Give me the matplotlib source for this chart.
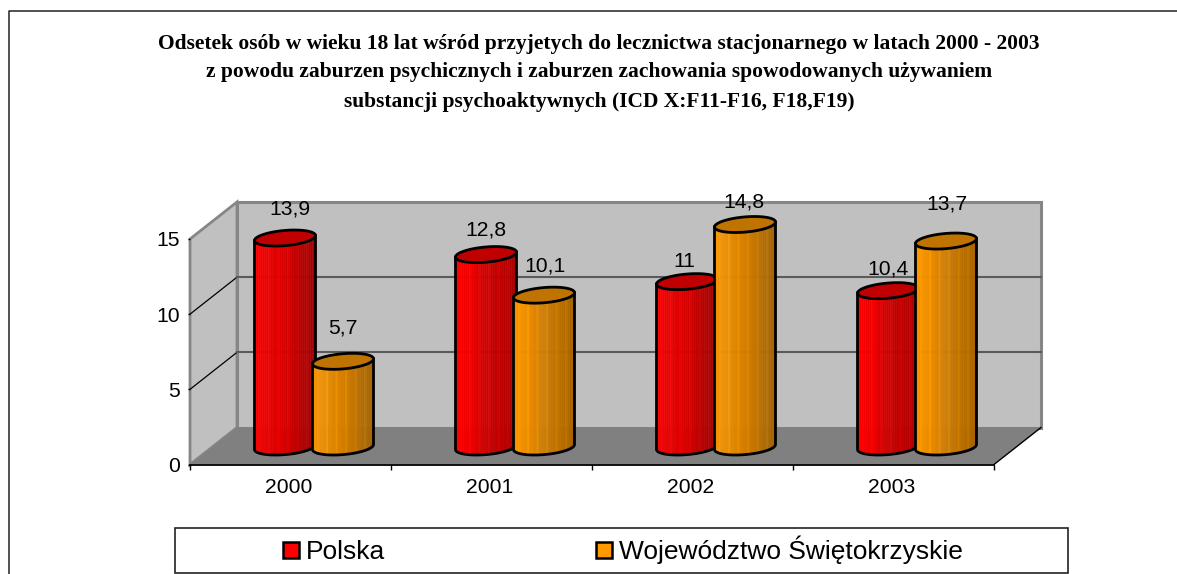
import numpy as np
import matplotlib
matplotlib.use("Agg")
import matplotlib.pyplot as plt
from matplotlib.patches import Rectangle, Polygon

W = 1177
H = 574

years = ["2000", "2001", "2002", "2003"]
polska = [13.9, 12.8, 11, 10.4]
swietokrzyskie = [5.7, 10.1, 14.8, 13.7]
value_ticks = [0, 5, 10, 15]
series_names = ["Polska", "Województwo Świętokrzyskie"]
title = ("Odsetek osób w wieku 18 lat wśród przyjetych do lecznictwa stacjonarnego w latach 2000 - 2003\n"
         "z powodu zaburzen psychicznych i zaburzen zachowania spowodowanych używaniem\n"
         "substancji psychoaktywnych (ICD X:F11-F16, F18,F19)")

# label offsets in pixels from the top of each bar, the labels were moved by hand
polska_off = [(5, 29), (0, 25), (-3, 20), (0, 22)]
swiet_off = [(0, 33), (1, 29), (-1, 23), (1, 37)]

plt.rcParams['font.family'] = ['Liberation Sans', 'DejaVu Sans']

fig = plt.figure(figsize=(W / 100, H / 100), dpi=100)
# axes = front plane of the 3d box
ax = fig.add_axes([190 / W, 1 - 464.5 / H, (994 - 190) / W, (464.5 - 239) / H])
ax.set_xlim(-0.5, 3.5)
ax.set_ylim(0, 15)
ax.patch.set_visible(False)
for s in ax.spines.values():
    s.set_visible(False)

cat_px = (994 - 190) / 4.0
val_px = (464.5 - 239) / 15.0
depth_x = 47 / cat_px
depth_y = 37 / val_px


def px_x(p):
    return p / cat_px


def px_y(p):
    return p / val_px


# outer frame, only left and top are inside the picture
fig.add_artist(plt.Line2D([9 / W, 9 / W, 1], [0, 1 - 11 / H, 1 - 11 / H], color="#222222", lw=1.1))

# walls and floor
x0, x1 = -0.5, 3.5
side = Polygon([(x0, 0), (x0, 15), (x0 + depth_x, 15 + depth_y), (x0 + depth_x, depth_y)],
               fc="#c0c0c0", ec="#868686", lw=2, clip_on=False, zorder=1)
back = Polygon([(x0 + depth_x, depth_y), (x0 + depth_x, 15 + depth_y),
                (x1 + depth_x, 15 + depth_y), (x1 + depth_x, depth_y)],
               fc="#c0c0c0", ec="#868686", lw=2.2, clip_on=False, zorder=1)
floor = Polygon([(x0, 0), (x0 + depth_x, depth_y), (x1 + depth_x, depth_y), (x1, 0)],
                fc="#808080", ec="none", clip_on=False, zorder=2)
ax.add_patch(side)
ax.add_patch(back)
ax.add_patch(floor)

for v in value_ticks[1:-1]:
    ax.plot([x0, x0 + depth_x], [v, v + depth_y], color="black", lw=0.9, clip_on=False, zorder=2)
    ax.plot([x0 + depth_x, x1 + depth_x], [v + depth_y, v + depth_y], color="#5a5a5a", lw=1.5,
            clip_on=False, zorder=2)

ax.plot([x1, x1 + depth_x], [0, depth_y], color="black", lw=1, clip_on=False, zorder=3)
ax.plot([x0, x1], [0, 0], color="black", lw=1.3, clip_on=False, zorder=3)

ax.set_xticks([i - 0.5 for i in range(5)])
ax.set_xticklabels([])
ax.set_yticks(value_ticks)
ax.tick_params(axis="x", length=3.6, width=1, color="black", pad=8)
ax.tick_params(axis="y", length=1.5, width=1, color="black", labelsize=15.2, pad=6)
for i, y in enumerate(years):
    ax.annotate(y, (i, 0), xytext=(-2, -23), textcoords="offset pixels", ha="center", va="center",
                fontsize=15.2, annotation_clip=False)


def mix(c, f):
    return [min(1, a * f) for a in c]


def cylinder(xc, value, width, base, top_col, z):
    a = width / 2.0
    b = px_y(7.6)
    k = px_y(2.5)
    cx = xc + px_x(23.5)
    y0 = px_y(17.5)
    y1 = value + px_y(17.5)
    t = np.linspace(0, np.pi, 60)
    ex = cx + a * np.cos(t)
    shear = k * np.cos(t)
    low = y0 - b * np.sin(t) + shear
    # strips for the shaded side
    n = 32
    edges = np.linspace(-1, 1, n + 1)
    for j in range(n):
        u0, u1 = edges[j], edges[j + 1]
        m = (u0 + u1) / 2
        f = 1.0 - 0.36 * (m + 1) / 2
        if j % 5 == 2:
            f = min(1.0, f * 1.08)
        u = np.array([u0, u1])
        xs = cx + a * u
        tt = np.arccos(u)
        sh = k * u
        ax.fill_between(xs, y0 - b * np.sin(tt) + sh, y1 + sh, color=mix(base, f),
                        lw=0.3, clip_on=False, zorder=z)
    outline = np.concatenate([[cx - a], ex[::-1], [cx + a]])
    ys = np.concatenate([[y1 - k], low[::-1], [y1 + k]])
    ax.plot(outline, ys, color="black", lw=2, clip_on=False, zorder=z + 0.1, solid_joinstyle="round")
    tf = np.linspace(0, 2 * np.pi, 100)
    top = Polygon(np.column_stack([cx + a * np.cos(tf), y1 + b * np.sin(tf) + k * np.cos(tf)]),
                  fc=top_col, ec="black", lw=2, clip_on=False, zorder=z + 0.2)
    ax.add_patch(top)


bar_w = 61 / cat_px
bar_off = 29 / cat_px
for i in range(len(years)):
    cylinder(i - bar_off, polska[i], bar_w, (1.0, 0.0, 0.0), "#c00000", 5 + i * 2)
    cylinder(i + bar_off, swietokrzyskie[i], bar_w, (1.0, 0.6, 0.0), "#bf7300", 6 + i * 2)
    for xc, v, off in ((i - bar_off, polska[i], polska_off[i]),
                       (i + bar_off, swietokrzyskie[i], swiet_off[i])):
        ax.annotate(f"{v:g}".replace(".", ","), (xc + px_x(23.5), v + px_y(17.5)), xytext=off,
                    textcoords="offset pixels", ha="center", va="center", fontsize=15.2,
                    annotation_clip=False, zorder=20)

# title
fig.text(599 / W, 1 - 72.5 / H, title, ha="center", va="center", family=["Liberation Serif"],
         fontweight="bold", fontsize=15.5, linespacing=1.6, color="black")

# legend box drawn by hand, the picture cuts it close to the bottom
fig.add_artist(Rectangle((174.5 / W, 1 - 572.5 / H), (1068 - 174.5) / W, (572.5 - 527.5) / H, fc="white",
                         ec="#222222", lw=1.2, transform=fig.transFigure))
for name, col, bx, tx in ((series_names[0], "#ff0000", 283, 306),
                          (series_names[1], "#ff9900", 596, 619)):
    fig.add_artist(Rectangle((bx / W, 1 - 558 / H), 16 / W, 16 / H, fc=col, ec="black", lw=1.8,
                             transform=fig.transFigure))
    fig.text(tx / W, 1 - 559 / H, name, ha="left", va="baseline", fontsize=19, color="black")

fig.savefig("out.png", dpi=100)
